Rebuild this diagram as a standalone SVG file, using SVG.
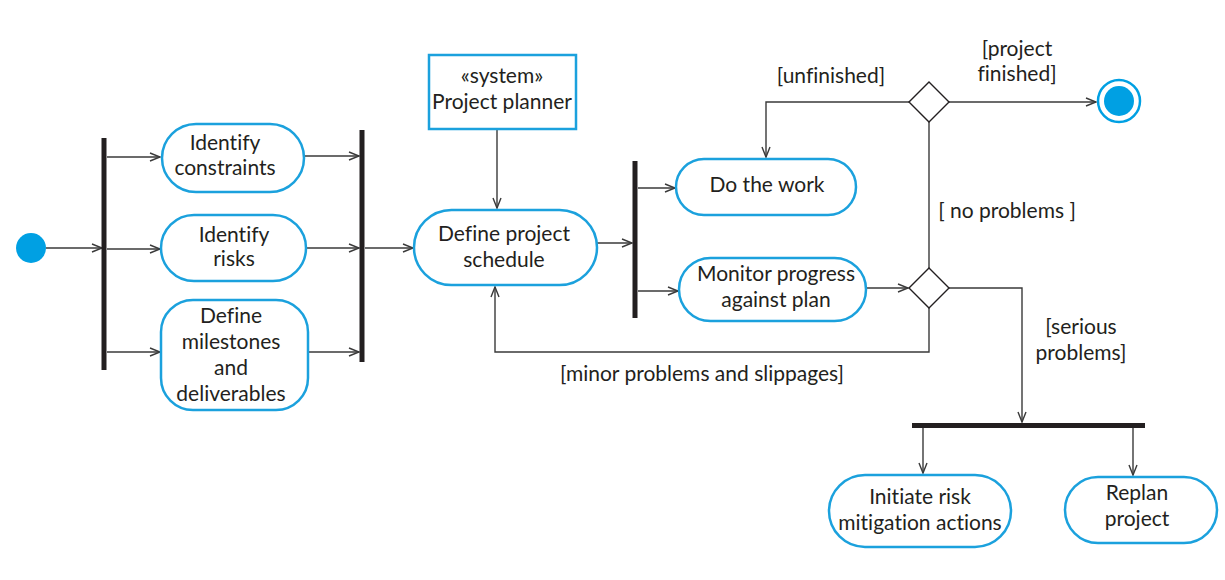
<svg xmlns="http://www.w3.org/2000/svg" width="1225" height="580" viewBox="0 0 1225 580">
<style>
.n{fill:#fff;stroke:#1ba1dd;stroke-width:2.5}
.t{font-family:Lato,"Liberation Sans",sans-serif;font-size:21px;fill:#231f20;text-anchor:middle;font-variant-ligatures:none}
.c{fill:none;stroke:#3a3a3a;stroke-width:1.4}
.bar{fill:#231f20}
.d{fill:#fff;stroke:#231f20;stroke-width:1.4}
</style>
<defs>
<marker id="a" markerUnits="userSpaceOnUse" markerWidth="14" markerHeight="12" refX="11" refY="5" orient="auto">
<path d="M1,1 L11,5 L1,9" fill="none" stroke="#3a3a3a" stroke-width="1.4"/>
</marker>
</defs>
<rect width="1225" height="580" fill="#fff"/>

<g id="connectors">
<line class="c" x1="46" y1="248" x2="102" y2="248" marker-end="url(#a)"/>
<line class="c" x1="107" y1="157" x2="160" y2="157" marker-end="url(#a)"/>
<line class="c" x1="107" y1="249" x2="160" y2="249" marker-end="url(#a)"/>
<line class="c" x1="107" y1="352" x2="160" y2="352" marker-end="url(#a)"/>
<line class="c" x1="304" y1="156" x2="359" y2="156" marker-end="url(#a)"/>
<line class="c" x1="306" y1="248" x2="359" y2="248" marker-end="url(#a)"/>
<line class="c" x1="308" y1="352" x2="359" y2="352" marker-end="url(#a)"/>
<line class="c" x1="365" y1="248" x2="413" y2="248" marker-end="url(#a)"/>
<line class="c" x1="497" y1="129" x2="497" y2="208" marker-end="url(#a)"/>
<line class="c" x1="597" y1="243" x2="632" y2="243" marker-end="url(#a)"/>
<line class="c" x1="638" y1="188" x2="675" y2="188" marker-end="url(#a)"/>
<line class="c" x1="638" y1="291" x2="678" y2="291" marker-end="url(#a)"/>
<line class="c" x1="866" y1="288" x2="908" y2="288" marker-end="url(#a)"/>
<line class="c" x1="929" y1="268" x2="929" y2="122"/>
<polyline class="c" points="909,102 766,102 766,157" marker-end="url(#a)"/>
<line class="c" x1="949" y1="102" x2="1096" y2="102" marker-end="url(#a)"/>
<polyline class="c" points="929,308 929,352 495,352 495,287" marker-end="url(#a)"/>
<polyline class="c" points="949,288 1022,288 1022,422" marker-end="url(#a)"/>
<line class="c" x1="923" y1="427" x2="923" y2="473" marker-end="url(#a)"/>
<line class="c" x1="1133" y1="427" x2="1133" y2="475" marker-end="url(#a)"/>
<text class="t" x="831" y="83">[unfinished]</text>
<text class="t" x="1017" y="56">[project</text>
<text class="t" x="1017" y="81">finished]</text>
<text class="t" x="1007" y="218">[ no problems ]</text>
<text class="t" x="1081" y="334">[serious</text>
<text class="t" x="1081" y="360">problems]</text>
<text class="t" x="702" y="381">[minor problems and slippages]</text>
</g>

<g id="start"><circle cx="31" cy="248" r="15" fill="#00a0e3"/></g>
<g id="fork1"><rect class="bar" x="101.5" y="138" width="5" height="232"/></g>
<g id="join1"><rect class="bar" x="359.5" y="130" width="5" height="232"/></g>
<g id="fork2"><rect class="bar" x="632.5" y="161" width="5" height="157"/></g>
<g id="fork3"><rect class="bar" x="912" y="423" width="233" height="5"/></g>

<g id="identify-constraints">
<rect class="n" x="162" y="124" width="142" height="68" rx="34"/>
<text class="t" x="225" y="150">Identify</text>
<text class="t" x="225" y="175">constraints</text>
</g>
<g id="identify-risks">
<rect class="n" x="161" y="215" width="145" height="66" rx="33"/>
<text class="t" x="234" y="242">Identify</text>
<text class="t" x="234" y="266">risks</text>
</g>
<g id="define-milestones">
<rect class="n" x="161" y="300" width="147" height="110" rx="32"/>
<text class="t" x="231" y="323">Define</text>
<text class="t" x="231" y="349">milestones</text>
<text class="t" x="231" y="375">and</text>
<text class="t" x="231" y="401">deliverables</text>
</g>
<g id="project-planner">
<rect x="429" y="55" width="147" height="74" fill="#fff" stroke="#1ba1dd" stroke-width="2.5"/>
<text class="t" x="502" y="83">«system»</text>
<text class="t" x="502" y="109">Project planner</text>
</g>
<g id="define-schedule">
<rect class="n" x="414" y="210" width="183" height="75" rx="37.5"/>
<text class="t" x="504" y="241">Define project</text>
<text class="t" x="504" y="267">schedule</text>
</g>
<g id="do-work">
<rect class="n" x="676" y="159" width="180" height="56" rx="28"/>
<text class="t" x="767" y="192">Do the work</text>
</g>
<g id="monitor">
<rect class="n" x="679" y="258" width="187" height="63" rx="31.5"/>
<text class="t" x="776" y="281">Monitor progress</text>
<text class="t" x="776" y="307">against plan</text>
</g>
<g id="decision1"><polygon class="d" points="929,82 949,102 929,122 909,102"/></g>
<g id="decision2"><polygon class="d" points="929,268 949,288 929,308 909,288"/></g>
<g id="end">
<circle cx="1119" cy="101" r="21" fill="#fff" stroke="#00a0e3" stroke-width="2.5"/>
<circle cx="1119" cy="101" r="15" fill="#00a0e3"/>
</g>
<g id="initiate-risk">
<rect class="n" x="829" y="475" width="182" height="72" rx="36"/>
<text class="t" x="920" y="504">Initiate risk</text>
<text class="t" x="920" y="530">mitigation actions</text>
</g>
<g id="replan">
<rect class="n" x="1065" y="477" width="152" height="66" rx="33"/>
<text class="t" x="1137" y="500">Replan</text>
<text class="t" x="1137" y="526">project</text>
</g>
</svg>
